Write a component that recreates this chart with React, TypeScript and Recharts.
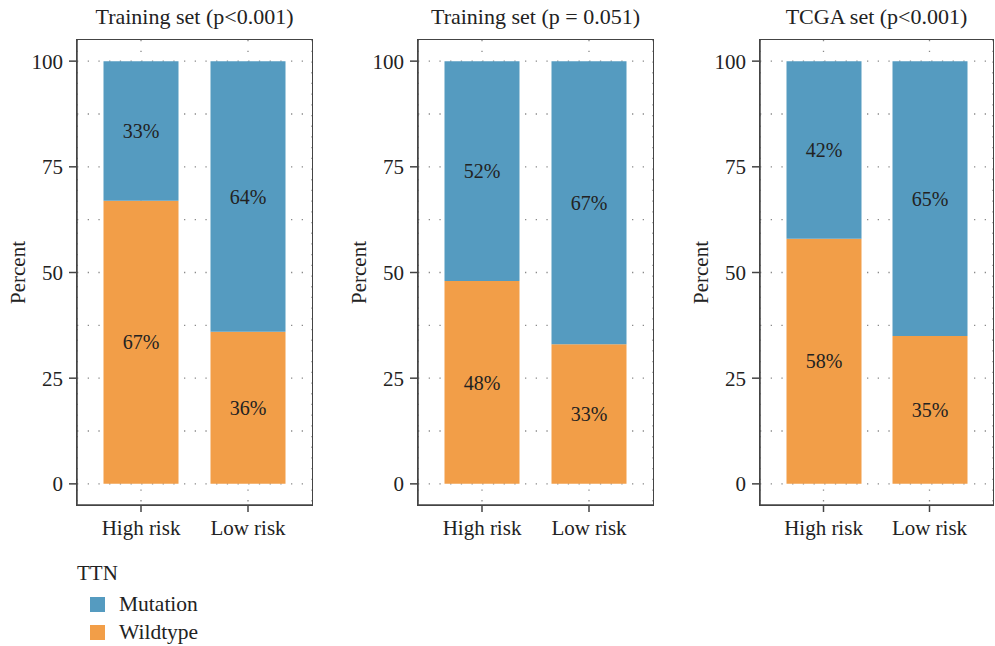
import React from 'react'
import { BarChart, Bar, XAxis, YAxis, CartesianGrid, LabelList } from 'recharts'

const categories = ['High risk', 'Low risk']
const panelTitles = ['Training set (p<0.001)', 'Training set (p = 0.051)', 'TCGA set (p<0.001)']
const mutationValues = [
  [33, 64],
  [52, 67],
  [42, 65],
]
const wildtypeValues = [
  [67, 36],
  [48, 33],
  [58, 35],
]
const yTicks = [0, 25, 50, 75, 100]
const gridValues = [0, 12.5, 25, 37.5, 50, 62.5, 75, 87.5, 100]
const legendItems = ['Mutation', 'Wildtype']

const BLUE = '#559BC0'
const ORANGE = '#F29E48'
const FRAME = '#444'
const TEXT = '#222'
const FONT = '"Liberation Serif", "DejaVu Serif", serif'

const panelLefts = [0, 341, 683]
const M = { top: 40, right: 18, bottom: 15, left: 0 }
const Y_W = 77
const X_H = 40
const CH = 560

function Panel({ idx }: { idx: number }) {
  const data = categories.map((name, i) => ({
    name,
    mutation: mutationValues[idx][i],
    wildtype: wildtypeValues[idx][i],
  }))
  const left = panelLefts[idx]
  const width = idx === 2 ? 328 : 330
  const plotW = width - Y_W - M.right
  const plotH = CH - M.top - M.bottom - X_H

  return (
    <div style={{ position: 'absolute', left, top: 0, width, height: CH }}>
      <div
        style={{
          position: 'absolute',
          left: Y_W,
          width: plotW,
          top: 4,
          textAlign: 'center',
          fontSize: 22,
          color: TEXT,
          whiteSpace: 'nowrap',
        }}
      >
        {panelTitles[idx]}
      </div>
      <BarChart width={width} height={CH} data={data} margin={M} barSize={75}>
        <CartesianGrid
          stroke="#8a8a8a"
          strokeWidth={1.3}
          strokeDasharray="1.3 9.4"
          horizontalValues={gridValues}
        />
        <XAxis
          dataKey="name"
          padding={{ left: 10.5, right: 10.5 }}
          height={X_H}
          tickSize={7}
          tickMargin={8}
          tick={{ fill: TEXT, fontSize: 21 }}
          axisLine={{ stroke: FRAME, strokeWidth: 1.5 }}
          tickLine={{ stroke: FRAME, strokeWidth: 1.5 }}
        />
        <YAxis
          type="number"
          domain={[-5, 105]}
          ticks={yTicks}
          width={Y_W}
          tickSize={8}
          tickMargin={6}
          tick={{ fill: TEXT, fontSize: 21 }}
          axisLine={{ stroke: FRAME, strokeWidth: 1.5 }}
          tickLine={{ stroke: FRAME, strokeWidth: 1.5 }}
          label={{
            value: 'Percent',
            angle: -90,
            position: 'insideLeft',
            offset: 18,
            fill: TEXT,
            fontSize: 21,
            style: { textAnchor: 'middle' },
          }}
        />
        <Bar dataKey="wildtype" stackId="s" fill={ORANGE} isAnimationActive={false}>
          <LabelList
            dataKey="wildtype"
            position="center"
            formatter={(v: number) => `${v}%`}
            fill={TEXT}
            fontSize={20}
          />
        </Bar>
        <Bar dataKey="mutation" stackId="s" fill={BLUE} isAnimationActive={false}>
          <LabelList
            dataKey="mutation"
            position="center"
            formatter={(v: number) => `${v}%`}
            fill={TEXT}
            fontSize={20}
          />
        </Bar>
      </BarChart>
      {/* panel frame */}
      <div
        style={{
          position: 'absolute',
          boxSizing: 'border-box',
          left: Y_W - 0.75,
          top: M.top - 0.75,
          width: plotW + 1.5,
          height: plotH + 1.5,
          border: `1.5px solid ${FRAME}`,
          pointerEvents: 'none',
        }}
      />
    </div>
  )
}

export default function App() {
  return (
    <div
      style={{
        position: 'absolute',
        left: 0,
        top: 0,
        width: 995,
        height: 646,
        overflow: 'hidden',
        background: '#fff',
        fontFamily: FONT,
      }}
    >
      {panelTitles.map((_, i) => (
        <Panel key={i} idx={i} />
      ))}
      <div style={{ position: 'absolute', left: 77, top: 561, fontSize: 21, color: TEXT }}>TTN</div>
      {legendItems.map((item, i) => (
        <div
          key={item}
          style={{
            position: 'absolute',
            left: 90,
            top: 592 + i * 28,
            display: 'flex',
            alignItems: 'center',
            fontSize: 21.5,
            color: TEXT,
          }}
        >
          <span
            style={{
              display: 'inline-block',
              width: 15,
              height: 15,
              background: i === 0 ? BLUE : ORANGE,
              marginRight: 14,
            }}
          />
          {item}
        </div>
      ))}
    </div>
  )
}
